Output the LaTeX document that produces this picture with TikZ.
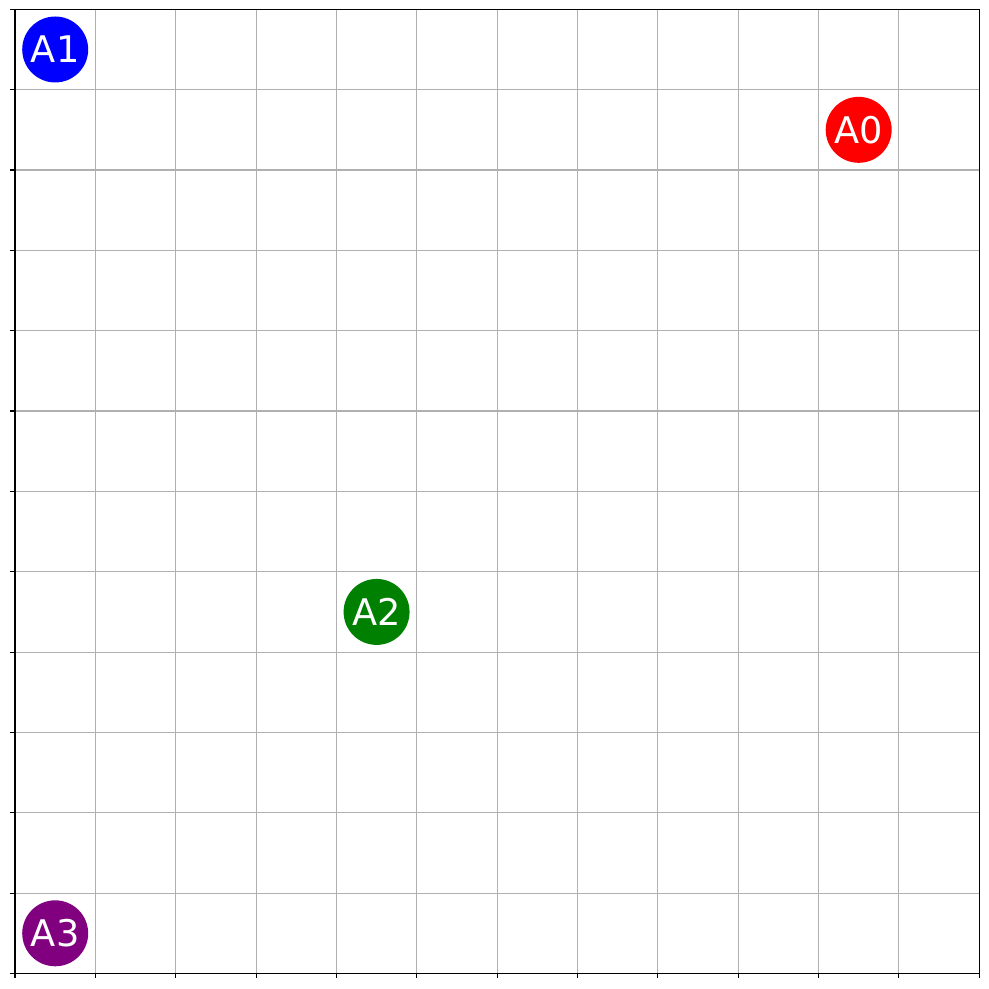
\documentclass[tikz,border=0pt]{standalone}
\usepackage{fontspec}
\setmainfont{DejaVu Sans}
\definecolor{gridgray}{HTML}{B0B0B0}
\definecolor{agentgreen}{HTML}{008000}
\definecolor{agentpurple}{HTML}{800080}
\begin{document}
\begin{tikzpicture}[x=2cm, y=2cm,
                    agent/.style={circle, fill=#1, text=white, minimum size=1.642cm,
                                  inner sep=0pt, font=\fontsize{26}{30}\selectfont}]
  \useasboundingbox (-0.187,-0.193) rectangle (12.112,12.116);

  % grid and axes
  \draw[gridgray, line width=0.8pt, step=2cm] (0,0) grid (12,12);
  \foreach \i in {0,...,12} {
    \draw[line width=0.8pt] (\i,0) -- ++(0,-0.061);
    \draw[line width=0.8pt] (0,\i) -- ++(-0.061,0);
  }

  % agents
  \node[agent=red] (A0) at (10.5,10.5) {A0};
  \node[agent=blue] (A1) at (0.5,11.5) {A1};
  \node[agent=agentgreen] (A2) at (4.5,4.5) {A2};
  \node[agent=agentpurple] (A3) at (0.5,0.5) {A3};

  \draw[line width=0.8pt] (0,0) rectangle (12,12);
\end{tikzpicture}
\end{document}
